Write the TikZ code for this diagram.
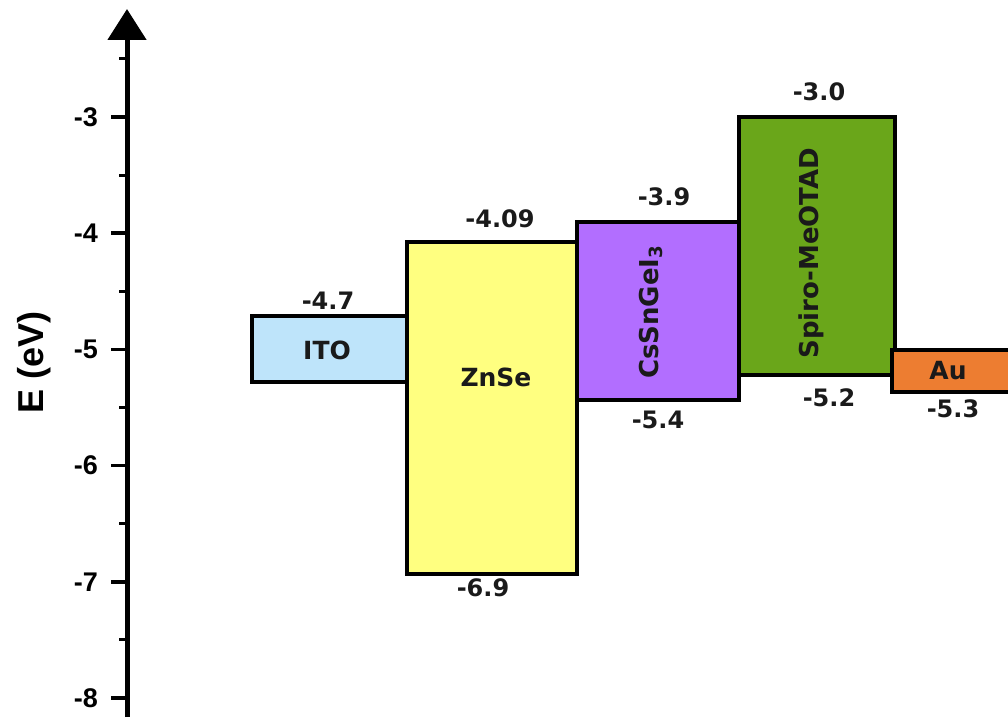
\documentclass[tikz,border=0pt]{standalone}
\usepackage{fontspec}
\setmainfont{DejaVu Sans}
\newfontfamily\axisfont{Liberation Sans}
\usetikzlibrary{arrows.meta}

\definecolor{itoblue}{HTML}{BEE4FA}
\definecolor{znseyellow}{HTML}{FFFF80}
\definecolor{perovpurple}{HTML}{B26EFF}
\definecolor{spirogreen}{HTML}{6AA61A}
\definecolor{auorange}{HTML}{ED7D31}
\definecolor{inktext}{HTML}{1A1A1A}

\tikzset{
  layer/.style={draw=black, line width=3.2pt, inner sep=0pt, outer sep=0pt, anchor=north west},
  layername/.style={font=\bfseries\fontsize{25}{25}\selectfont, text=inktext, inner sep=0pt},
  vertname/.style={font=\bfseries\fontsize{26}{26}\selectfont, text=inktext, rotate=90, inner sep=0pt},
  level/.style={font=\bfseries\fontsize{24}{24}\selectfont, text=inktext, inner sep=0pt},
  ticklabel/.style={font=\axisfont\bfseries\fontsize{27}{27}\selectfont, anchor=east, inner sep=0pt},
  majortick/.style={line width=3.5pt},
  minortick/.style={line width=3pt},
}

\begin{document}
\begin{tikzpicture}[x=1pt, y=-1pt]
  \useasboundingbox (0,0) rectangle (1008,717);

  % energy axis
  \coordinate (axbot) at (127,717);
  \coordinate (axtop) at (127,9);
  \draw[line width=5pt, -{Triangle[width=38pt,length=31pt]}] (axbot) -- (axtop);

  % ticks and tick labels (1 eV = 116.2 px, -3 eV at y = 117)
  \foreach \v [count=\i from 0] in {-3,-4,-5,-6,-7,-8} {
    \pgfmathsetmacro{\yy}{117+116.2*\i}
    \draw[majortick] (111,\yy) -- (127,\yy);
    \node[ticklabel] (t\i) at (98,\yy) {\v};
  }
  \foreach \i in {0,...,5} {
    \pgfmathsetmacro{\yy}{117+116.2*(\i-0.5)}
    \draw[minortick] (119,\yy) -- (127,\yy);
  }

  \node[rotate=90, font=\axisfont\bfseries\fontsize{36}{36}\selectfont, inner sep=0pt] (elabel) at (34,362) {E (eV)};

  % layers: width x height in px, anchored at their upper left corner
  \node[layer, fill=itoblue, minimum width=155pt, minimum height=66pt] (ito) at (252,316) {};
  \node[layer, fill=znseyellow, minimum width=170pt, minimum height=332pt] (znse) at (407,242) {};
  \node[layer, fill=perovpurple, minimum width=162pt, minimum height=178pt] (cs) at (577,222) {};
  \node[layer, fill=spirogreen, minimum width=156pt, minimum height=258pt] (spiro) at (739,117) {};
  \node[layer, fill=auorange, minimum width=125pt, minimum height=42pt] (au) at (892,350) {};

  % layer names
  \node[layername] (itoname) at (327,350) {ITO};
  \node[layername] (znsename) at (496,377) {ZnSe};
  \node[vertname, anchor=base] (csname) at (658,312) {CsSnGeI$_{\mathbf 3}$};
  \node[vertname, anchor=base] (spironame) at (818,253) {Spiro-MeOTAD};
  \node[layername] (auname) at (948,371) {Au};

  % band edges
  \node[level] at (328,301) {-4.7};
  \node[level] at (500,219) {-4.09};
  \node[level] at (483,588) {-6.9};
  \node[level] at (664,197) {-3.9};
  \node[level] at (658,420) {-5.4};
  \node[level] at (819,92) {-3.0};
  \node[level] at (829,398) {-5.2};
  \node[level] at (953,409) {-5.3};
\end{tikzpicture}
\end{document}
